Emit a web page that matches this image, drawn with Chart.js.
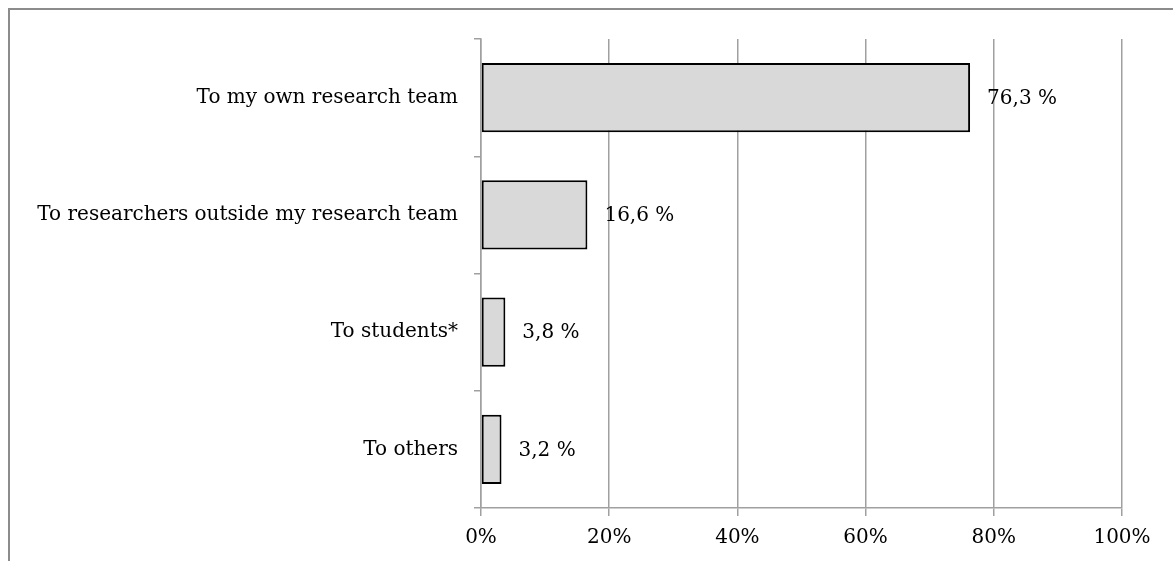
<!DOCTYPE html>
<html>
<head>
<meta charset="utf-8">
<script src="https://cdn.jsdelivr.net/npm/chart.js@4.4.1/dist/chart.umd.min.js"></script>
<style>
    html, body { margin: 0; padding: 0; background: #fff; overflow: hidden; }
    #frame {
        position: absolute; left: 8px; top: 8px; width: 1200px; height: 600px;
        border-top: 2px solid #8c8c8c; border-left: 2px solid #8c8c8c;
    }
    #wrap { position: absolute; left: 0; top: 0; width: 1173px; height: 561px; }
</style>
</head>
<body>
<div id="frame"></div>
<div id="wrap"><canvas id="barChart"></canvas></div>
<script>
const categories = [
    "To my own research team",
    "To researchers outside my research team",
    "To students*",
    "To others"
];
const shares = [76.3, 16.6, 3.8, 3.2];
const xTicks = [0, 20, 40, 60, 80, 100];

const FONT = "'DejaVu Serif', 'Liberation Serif', serif";

const valueLabels = {
    id: "valueLabels",
    afterDatasetsDraw(chart) {
        const ctx = chart.ctx;
        const meta = chart.getDatasetMeta(0);
        ctx.save();
        ctx.font = "20px " + FONT;
        ctx.fillStyle = "#000";
        ctx.textAlign = "left";
        ctx.textBaseline = "middle";
        meta.data.forEach((bar, i) => {
            const txt = shares[i].toFixed(1).replace(".", ",") + " %";
            ctx.fillText(txt, bar.x + 17, bar.y + 1);
        });
        ctx.restore();
    }
};

const ctx = document.getElementById("barChart").getContext("2d");

const barChart = new Chart(ctx, {
    type: "bar",
    data: {
        labels: categories,
        datasets: [{
            data: shares,
            backgroundColor: "#d9d9d9",
            borderColor: "#000",
            borderWidth: 2,
            borderSkipped: false,
            barPercentage: 0.59,
            categoryPercentage: 1
        }]
    },
    options: {
        indexAxis: "y",
        responsive: true,
        maintainAspectRatio: false,
        animation: false,
        layout: { padding: { top: 39, right: 51, left: 0, bottom: 0 } },
        plugins: {
            legend: { display: false },
            tooltip: { enabled: false }
        },
        scales: {
            x: {
                min: 0,
                max: 100,
                afterBuildTicks: s => { s.ticks = xTicks.map(v => ({ value: v })); },
                afterFit: s => { s.height = 53; },
                grid: { color: "#a0a0a0", lineWidth: 1.5, tickLength: 8 },
                border: { color: "#a0a0a0", width: 1.5 },
                ticks: {
                    color: "#000",
                    padding: 10,
                    font: { family: FONT, size: 20 },
                    callback: v => v + "%"
                }
            },
            y: {
                afterFit: s => { s.width = 481; },
                grid: { drawOnChartArea: false, offset: true, tickLength: 7, color: "#a0a0a0", lineWidth: 1.5 },
                border: { color: "#a0a0a0", width: 1.5 },
                ticks: {
                    color: "#000",
                    padding: 16,
                    font: { family: FONT, size: 20 }
                }
            }
        }
    },
    plugins: [valueLabels]
});
</script>
</body>
</html>
